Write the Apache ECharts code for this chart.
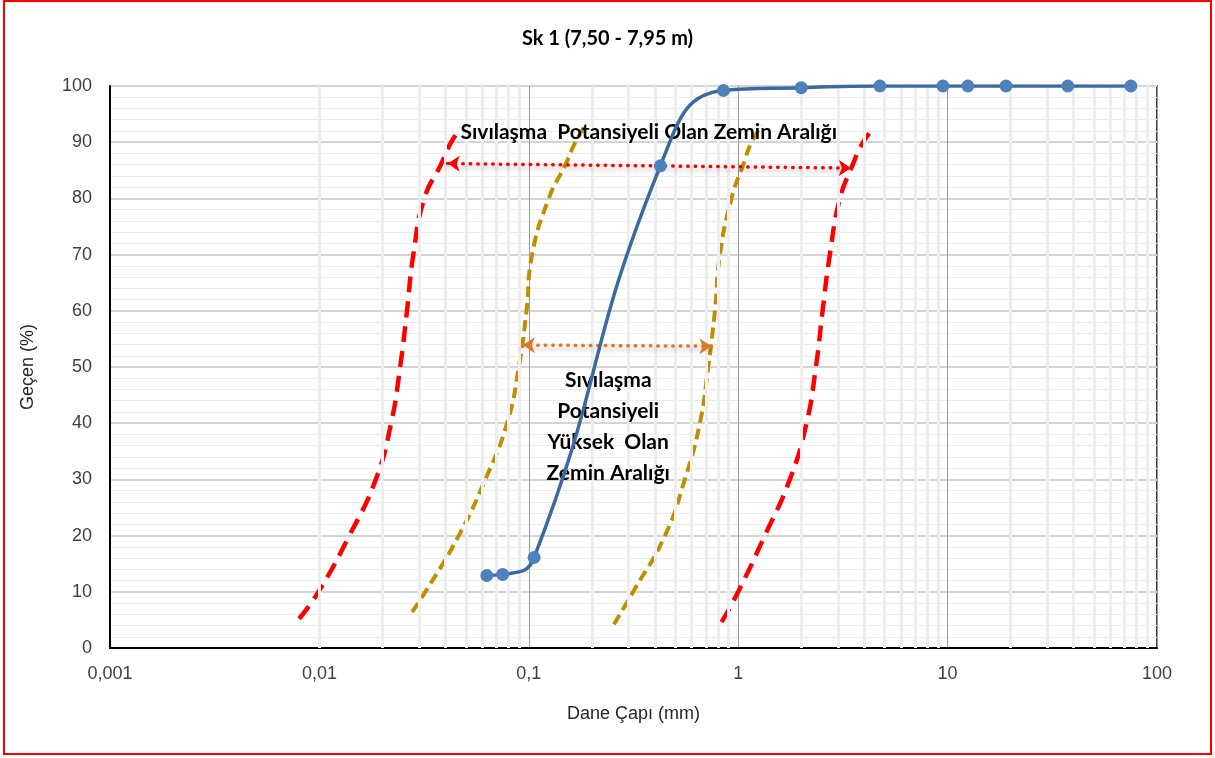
<!DOCTYPE html>
<html>
<head>
<meta charset="utf-8">
<script src="https://cdn.jsdelivr.net/npm/echarts@6/dist/echarts.min.js"></script>
<style>
  html, body { margin: 0; padding: 0; background: #fff; }
  #chart { width: 1215px; height: 758px; }
</style>
</head>
<body>
<div id="chart"></div>
<script>
// elek analizi - Sk 1 (7,50 - 7,95 m)
var sieveSize = [0.063, 0.075, 0.106, 0.425, 0.85, 2, 4.75, 9.5, 12.5, 19, 37.5, 75];
var passing = [12.9, 13.1, 16.1, 85.8, 99.2, 99.7, 100, 100, 100, 100, 100, 100];

// sıvılaşma sınır eğrileri (dış: kırmızı, iç: sarı)
var redLeftX = [0.008, 0.0099, 0.0139, 0.0186, 0.022, 0.0243, 0.0262, 0.0281, 0.0317, 0.038, 0.0426, 0.0475];
var redLeftY = [5.2, 10, 20, 30, 40, 50, 60, 70, 80, 86, 90, 92.6];
var goldLeftX = [0.0277, 0.0321, 0.0463, 0.062, 0.0788, 0.0896, 0.0975, 0.1037, 0.1246, 0.1496, 0.167, 0.19];
var goldLeftY = [6.4, 10, 20, 30, 40, 50, 60, 70, 80, 86, 90, 93.5];
var goldRightX = [0.255, 0.315, 0.447, 0.556, 0.656, 0.719, 0.774, 0.818, 0.929, 1.057, 1.158, 1.3];
var goldRightY = [4.2, 10, 20, 30, 40, 50, 60, 70, 80, 86, 90, 93];
var redRightX = [0.833, 1.0, 1.34, 1.765, 2.12, 2.35, 2.53, 2.74, 3.06, 3.47, 3.95, 4.5];
var redRightY = [4.6, 10, 20, 30, 40, 50, 60, 70, 80, 85.4, 90, 92.7];

// oklar
var redArrow = [[0.041, 86.2], [3.45, 85.4]];
var orangeArrow = [[0.0936, 53.9], [0.745, 53.7]];

// yazılar
var outerText = 'Sıvılaşma  Potansiyeli Olan Zemin Aralığı';
var outerTextPos = [0.374, 91.8];
var innerText = 'Sıvılaşma\nPotansiyeli\nYüksek  Olan\nZemin Aralığı';
var innerTextPos = [0.2395, 39.4];

var xTicks = [0.001, 0.01, 0.1, 1, 10, 100];

function pairs(xs, ys) {
    var out = [];
    for (var i = 0; i < xs.length; i++) {
        out.push([xs[i], ys[i]]);
    }
    return out;
}

// log eksen ara çizgileri (2..9)
var minorLines = [];
for (var d = 0; d < xTicks.length - 1; d++) {
    for (var k = 2; k <= 9; k++) {
        minorLines.push({ xAxis: +(xTicks[d] * k).toPrecision(6) });
    }
}

var myChart = echarts.init(document.getElementById('chart'));

var boldFont = 'Lato, "Open Sans", sans-serif';
var plainFont = '"Liberation Sans", Arial, sans-serif';

var option = {
    animation: false,
    backgroundColor: '#fff',
    title: {
        text: 'Sk 1 (7,50 - 7,95 m)',
        left: 'center',
        top: 24,
        textStyle: { fontFamily: boldFont, fontWeight: 'bold', fontSize: 20, color: '#000' }
    },
    graphic: [{
        type: 'rect',
        shape: { x: 4, y: 1, width: 1207, height: 753 },
        style: { fill: 'none', stroke: '#ff0000', lineWidth: 2 },
        silent: true,
        z: 100
    }],
    grid: {
        left: 110,
        right: 58,
        top: 86,
        bottom: 110,
        show: true,
        borderColor: '#000',
        borderWidth: 1.5
    },
    xAxis: {
        type: 'log',
        logBase: 10,
        min: 0.001,
        max: 100,
        name: 'Dane Çapı (mm)',
        nameLocation: 'middle',
        nameGap: 57,
        nameTextStyle: { fontFamily: plainFont, fontSize: 18, color: '#262626' },
        axisLine: { show: true, onZero: false, lineStyle: { color: '#000', width: 2 } },
        axisTick: { show: false },
        axisLabel: {
            fontFamily: plainFont,
            fontSize: 18,
            color: '#404040',
            margin: 17,
            formatter: function (v) {
                return String(+(+v).toPrecision(6)).replace('.', ',');
            }
        },
        splitLine: { show: true, lineStyle: { color: '#9a9a9a', width: 1 } }
    },
    yAxis: {
        type: 'value',
        min: 0,
        max: 100,
        interval: 10,
        name: 'Geçen (%)',
        nameLocation: 'middle',
        nameGap: 73,
        nameTextStyle: { fontFamily: plainFont, fontSize: 18, color: '#262626' },
        axisLine: { show: true, lineStyle: { color: '#000', width: 2 } },
        axisTick: { show: false },
        axisLabel: { fontFamily: plainFont, fontSize: 18, color: '#404040', margin: 18 },
        splitLine: { show: true, lineStyle: { color: '#d4d4d4', width: 2 } },
        minorTick: { show: false, splitNumber: 5 },
        minorSplitLine: { show: true, lineStyle: { color: '#ececec', width: 1 } }
    },
    series: [
        {
            name: 'minor-grid',
            type: 'line',
            data: [],
            silent: true,
            z: 1,
            markLine: {
                silent: true,
                symbol: 'none',
                label: { show: false },
                lineStyle: { color: '#eeeeee', width: 3, type: 'solid' },
                data: minorLines
            }
        },
        {
            name: 'Alt sınır (dış)',
            type: 'line',
            data: pairs(redLeftX, redLeftY),
            smooth: 0.5,
            showSymbol: false,
            z: 3,
            lineStyle: { color: '#ff0000', width: 4.5, type: [16, 9] }
        },
        {
            name: 'Üst sınır (dış)',
            type: 'line',
            data: pairs(redRightX, redRightY),
            smooth: 0.5,
            showSymbol: false,
            z: 3,
            lineStyle: { color: '#ff0000', width: 4.5, type: [16, 9] }
        },
        {
            name: 'Alt sınır (iç)',
            type: 'line',
            data: pairs(goldLeftX, goldLeftY),
            smooth: 0.5,
            showSymbol: false,
            z: 3,
            lineStyle: { color: '#bf8f00', width: 4, type: [11, 6] }
        },
        {
            name: 'Üst sınır (iç)',
            type: 'line',
            data: pairs(goldRightX, goldRightY),
            smooth: 0.5,
            showSymbol: false,
            z: 3,
            lineStyle: { color: '#bf8f00', width: 4, type: [11, 6] }
        },
        {
            name: 'Sk 1',
            type: 'line',
            data: pairs(sieveSize, passing),
            smooth: 0.5,
            symbol: 'circle',
            symbolSize: 13,
            z: 5,
            itemStyle: { color: '#4f81bd' },
            lineStyle: { color: '#3c6aa0', width: 3.5 }
        },
        {
            name: 'oklar',
            type: 'line',
            data: [],
            silent: true,
            z: 6,
            markLine: {
                silent: true,
                symbol: ['arrow', 'arrow'],
                symbolSize: 12,
                label: { show: false },
                data: [
                    [
                        { coord: redArrow[0], lineStyle: { color: '#ff0000' } },
                        { coord: redArrow[1] }
                    ],
                    [
                        { coord: orangeArrow[0], lineStyle: { color: '#e0782a' } },
                        { coord: orangeArrow[1] }
                    ]
                ],
                lineStyle: {
                    width: 3.5,
                    type: [0.5, 7],
                    cap: 'round',
                    shadowBlur: 5,
                    shadowColor: 'rgba(0,0,0,0.35)',
                    shadowOffsetY: 3
                }
            }
        },
        {
            name: 'yazılar',
            type: 'line',
            data: [],
            silent: true,
            z: 7,
            markPoint: {
                silent: true,
                symbol: 'circle',
                symbolSize: 1,
                itemStyle: { color: 'rgba(0,0,0,0)' },
                label: {
                    show: true,
                    position: 'inside',
                    fontFamily: boldFont,
                    fontWeight: 'bold',
                    fontSize: 21,
                    color: '#000',
                    lineHeight: 31,
                    align: 'center',
                    verticalAlign: 'middle'
                },
                data: [
                    { coord: outerTextPos, label: { formatter: outerText } },
                    { coord: innerTextPos, label: { formatter: innerText } }
                ]
            }
        }
    ]
};

if (option && typeof option === 'object') {
    myChart.setOption(option, true);
}
</script>
</body>
</html>
